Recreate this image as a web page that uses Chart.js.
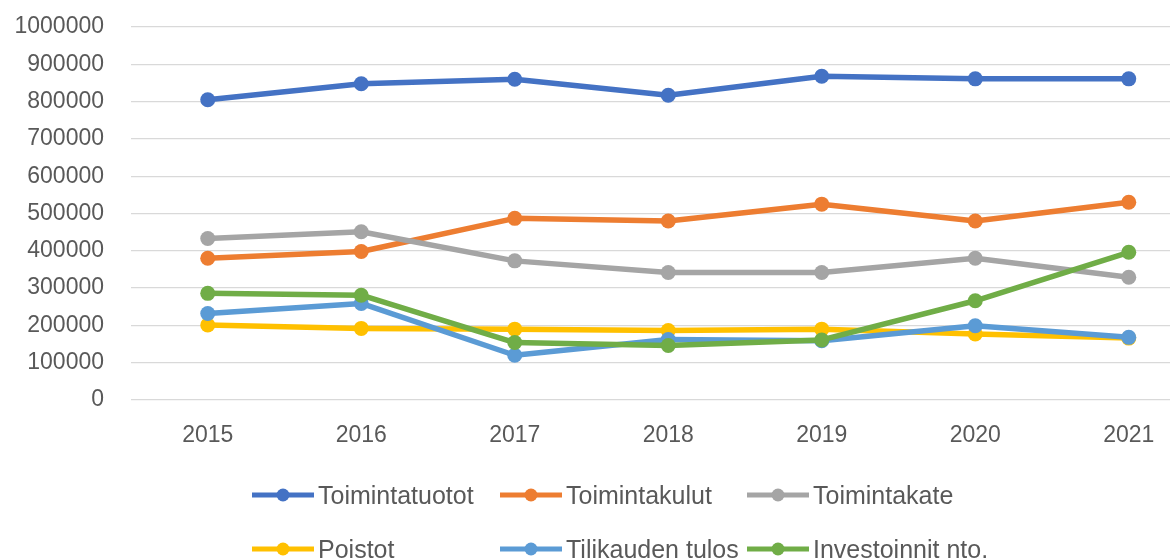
<!DOCTYPE html>
<html>
<head>
<meta charset="utf-8">
<script src="https://cdn.jsdelivr.net/npm/chart.js@4/dist/chart.umd.min.js"></script>
<style>
  html, body { margin: 0; padding: 0; background: #fff; overflow: hidden; }
  #wrap { position: relative; width: 1213px; height: 560px; }
</style>
</head>
<body>
<div id="wrap"><canvas id="c"></canvas></div>
<script>
const years = ['2015', '2016', '2017', '2018', '2019', '2020', '2021'];
const seriesNames = ['Toimintatuotot', 'Toimintakulut', 'Toimintakate', 'Poistot', 'Tilikauden tulos', 'Investoinnit nto.'];
const toimintatuotot = [805000, 848000, 860000, 817000, 868000, 861000, 861000];
const toimintakulut = [380000, 398000, 487000, 480000, 525000, 480000, 530000];
const toimintakate = [433000, 451000, 373000, 342000, 342000, 380000, 329000];
const poistot = [201000, 192000, 190000, 186000, 190000, 177000, 166000];
const tilikaudenTulos = [232000, 259000, 120000, 162000, 159000, 199000, 168000];
const investoinnit = [286000, 281000, 154000, 146000, 161000, 266000, 396000];
const seriesColors = ['#4472C4', '#ED7D31', '#A5A5A5', '#FFC000', '#5B9BD5', '#70AD47'];
const yMin = 0, yMax = 1000000, yStep = 100000;

const seriesValues = [toimintatuotot, toimintakulut, toimintakate, poistot, tilikaudenTulos, investoinnit];
const FONT = '"Liberation Sans", Arial, sans-serif';
const TEXT = '#595959';

const datasets = seriesValues.map((vals, i) => ({
  label: seriesNames[i],
  data: vals,
  borderColor: seriesColors[i],
  backgroundColor: seriesColors[i],
  pointBackgroundColor: seriesColors[i],
  pointBorderColor: seriesColors[i],
  pointBorderWidth: 0,
  pointRadius: 7.5,
  borderWidth: 5.5,
  tension: 0,
  fill: false,
  borderCapStyle: 'round',
  borderJoinStyle: 'round',
  order: seriesValues.length - i
}));

const gridLegend = {
  id: 'gridLegend',
  afterDraw(chart) {
    const ctx = chart.ctx;
    const cols = [252, 500, 747];
    const rows = [495, 549];
    ctx.save();
    ctx.font = '25px ' + FONT;
    ctx.textAlign = 'left';
    ctx.textBaseline = 'alphabetic';
    chart.data.datasets.forEach((ds, i) => {
      const x = cols[i % 3];
      const y = rows[Math.floor(i / 3)];
      ctx.strokeStyle = ds.borderColor;
      ctx.lineWidth = 5;
      ctx.lineCap = 'butt';
      ctx.beginPath();
      ctx.moveTo(x, y);
      ctx.lineTo(x + 62, y);
      ctx.stroke();
      ctx.fillStyle = ds.borderColor;
      ctx.beginPath();
      ctx.arc(x + 31, y, 6.5, 0, Math.PI * 2);
      ctx.fill();
      ctx.fillStyle = TEXT;
      ctx.fillText(ds.label, x + 66, y + 9);
    });
    ctx.restore();
  }
};

new Chart(document.getElementById('c'), {
  type: 'line',
  data: { labels: years, datasets },
  plugins: [gridLegend],
  options: {
    responsive: true,
    maintainAspectRatio: false,
    animation: false,
    layout: { padding: { top: 27, left: 0, right: 0, bottom: 0 } },
    plugins: { legend: { display: false }, tooltip: { enabled: false } },
    scales: {
      x: {
        offset: true,
        grid: { display: false, drawTicks: false },
        border: { display: false },
        ticks: { color: TEXT, font: { family: FONT, size: 23 }, padding: 22, maxRotation: 0 },
        afterFit(scale) { scale.height = 160; }
      },
      y: {
        min: yMin,
        max: yMax,
        grid: { color: '#D9D9D9', lineWidth: 1.3, drawTicks: false },
        border: { display: false },
        ticks: {
          stepSize: yStep,
          color: TEXT,
          font: { family: FONT, size: 23 },
          padding: 27,
          callback: v => String(v)
        },
        afterFit(scale) {
          scale.width = 131;
          scale.paddingTop = 14;
          scale.paddingBottom = 14;
        }
      }
    }
  }
});
</script>
</body>
</html>
